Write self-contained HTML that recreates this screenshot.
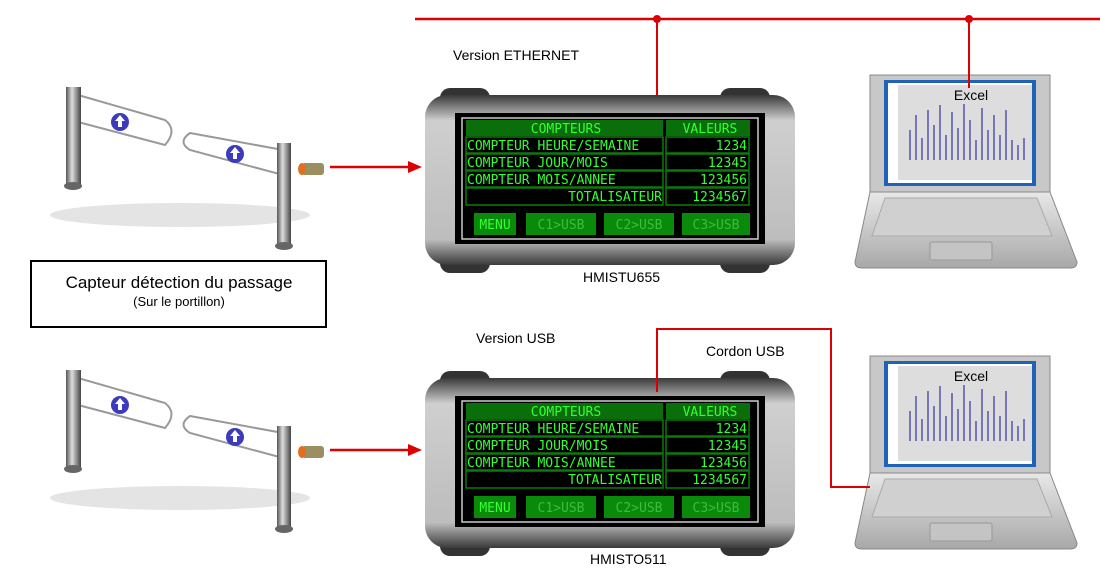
<!DOCTYPE html><html><head><meta charset="utf-8"><style>
body{margin:0;background:#fff;width:1100px;height:566px;overflow:hidden;font-family:"Liberation Sans",sans-serif}
svg text{font-family:"Liberation Sans",sans-serif}
svg text.m{font-family:"DejaVu Sans Mono","Liberation Mono",monospace;font-size:13px;fill:#33ff33}
svg text.d{fill:#3dbb3d}
</style></head><body>
<svg width="1100" height="566" viewBox="0 0 1100 566">
<defs>
<linearGradient id="post" x1="0" x2="1"><stop offset="0" stop-color="#555"/><stop offset=".4" stop-color="#ddd"/><stop offset="1" stop-color="#444"/></linearGradient>
<linearGradient id="body" x1="0" y1="0" x2="0" y2="1"><stop offset="0" stop-color="#3a3a3a"/><stop offset=".15" stop-color="#cfcfcf"/><stop offset=".85" stop-color="#bdbdbd"/><stop offset="1" stop-color="#3a3a3a"/></linearGradient>
<linearGradient id="lap" x1="0" y1="0" x2="0" y2="1"><stop offset="0" stop-color="#e8e8e8"/><stop offset="1" stop-color="#a8a8a8"/></linearGradient>
<g id="gate">
<ellipse cx="180" cy="215" rx="130" ry="12" fill="#e4e4e4"/>
<path d="M78 95 L165 120 Q178 130 165 145 L78 122" fill="none" stroke="#999" stroke-width="2"/>
<path d="M190 133 L283 150 L283 175 L190 150 Q177 142 190 133Z" fill="none" stroke="#999" stroke-width="2"/>
<circle cx="120" cy="122" r="9" fill="#3b3bbb"/><path d="M120 115 l-5 6 h3 v6 h4 v-6 h3z" fill="#fff"/>
<circle cx="235" cy="154" r="9" fill="#3b3bbb"/><path d="M235 147 l-5 6 h3 v6 h4 v-6 h3z" fill="#fff"/>
<rect x="66" y="87" width="15" height="97" fill="url(#post)"/><ellipse cx="73" cy="186" rx="9" ry="4" fill="#666"/>
<rect x="277" y="143" width="14" height="102" fill="url(#post)"/><ellipse cx="284" cy="246" rx="9" ry="4" fill="#666"/>
<rect x="302" y="163" width="22" height="12" rx="3" fill="#998f60"/><ellipse cx="302" cy="169" rx="4" ry="6" fill="#e07020"/>
<line x1="330" y1="167" x2="410" y2="167" stroke="#d00" stroke-width="2.5"/><path d="M408 161 L422 167 L408 173Z" fill="#d00"/>
</g>
<g id="hmi">
<rect x="720" y="88" width="50" height="185" rx="10" fill="#333"/>
<rect x="440" y="88" width="50" height="185" rx="10" fill="#333"/>
<rect x="425" y="95" width="370" height="170" rx="22" fill="url(#body)"/>
<rect x="455" y="113" width="310" height="131" fill="#000"/>
<rect x="462" y="118" width="296" height="121" fill="none" stroke="#ccc" stroke-width="1.5"/>
<rect x="466" y="120" width="197" height="16" fill="#0a6e0a"/><rect x="666" y="120" width="84" height="16" fill="#0a6e0a"/>
<g fill="none" stroke="#0a7a0a" stroke-width="1.5"><rect x="466" y="137" width="197" height="16"/><rect x="666" y="137" width="83" height="16"/><rect x="466" y="154" width="197" height="16"/><rect x="666" y="154" width="83" height="16"/><rect x="466" y="171" width="197" height="16"/><rect x="666" y="171" width="83" height="16"/><rect x="466" y="188" width="197" height="17"/><rect x="666" y="188" width="83" height="17"/></g>
<text class="m" x="566" y="133" text-anchor="middle">COMPTEURS</text><text class="m" x="710" y="133" text-anchor="middle">VALEURS</text>
<text class="m" x="467" y="150">COMPTEUR HEURE/SEMAINE</text><text class="m" x="747" y="150" text-anchor="end">1234</text>
<text class="m" x="467" y="167">COMPTEUR JOUR/MOIS</text><text class="m" x="747" y="167" text-anchor="end">12345</text>
<text class="m" x="467" y="184">COMPTEUR MOIS/ANNEE</text><text class="m" x="747" y="184" text-anchor="end">123456</text>
<text class="m" x="662" y="201" text-anchor="end">TOTALISATEUR</text><text class="m" x="747" y="201" text-anchor="end">1234567</text>
<rect x="474" y="213" width="42" height="22" fill="#0a8a0a"/><rect x="526" y="213" width="70" height="22" fill="#0a8a0a"/><rect x="604" y="213" width="70" height="22" fill="#0a8a0a"/><rect x="682" y="213" width="68" height="22" fill="#0a8a0a"/>
<text class="m" x="495" y="229" text-anchor="middle">MENU</text>
<text class="m d" x="561" y="229" text-anchor="middle">C1&gt;USB</text><text class="m d" x="639" y="229" text-anchor="middle">C2&gt;USB</text><text class="m d" x="716" y="229" text-anchor="middle">C3&gt;USB</text>
</g>
<g id="laptop">
<path d="M870 75 L1050 75 L1050 192 L870 192Z" fill="#c8c8c8" stroke="#888"/>
<rect x="884" y="80" width="152" height="106" fill="#1f63b8"/>
<rect x="888" y="83" width="144" height="100" fill="#fff"/>
<rect x="898" y="85" width="134" height="95" fill="#ddd"/>
<text x="971" y="100" font-size="14" text-anchor="middle" fill="#000">Excel</text>
<g stroke="#5555aa" stroke-width="1.5">
<line x1="910" y1="160" x2="910" y2="130"/><line x1="916" y1="160" x2="916" y2="115"/><line x1="922" y1="160" x2="922" y2="138"/><line x1="928" y1="160" x2="928" y2="110"/><line x1="934" y1="160" x2="934" y2="125"/><line x1="940" y1="160" x2="940" y2="105"/><line x1="946" y1="160" x2="946" y2="135"/><line x1="952" y1="160" x2="952" y2="112"/><line x1="958" y1="160" x2="958" y2="128"/><line x1="964" y1="160" x2="964" y2="104"/><line x1="970" y1="160" x2="970" y2="120"/><line x1="976" y1="160" x2="976" y2="140"/><line x1="982" y1="160" x2="982" y2="108"/><line x1="988" y1="160" x2="988" y2="130"/><line x1="994" y1="160" x2="994" y2="115"/><line x1="1000" y1="160" x2="1000" y2="135"/><line x1="1006" y1="160" x2="1006" y2="110"/><line x1="1012" y1="160" x2="1012" y2="140"/><line x1="1018" y1="160" x2="1018" y2="145"/><line x1="1024" y1="160" x2="1024" y2="138"/></g>
<path d="M870 192 L1050 192 L1077 262 Q1077 268 1070 268 L862 268 Q855 268 855 262Z" fill="url(#lap)" stroke="#888"/>
<path d="M885 198 L1037 198 L1052 236 L872 236Z" fill="#d0d0d0" stroke="#aaa"/>
<rect x="930" y="242" width="62" height="18" rx="2" fill="#c4c4c4" stroke="#999"/>
</g>
</defs>
<line x1="415" y1="19" x2="1100" y2="19" stroke="#d00" stroke-width="2.5"/>
<line x1="657" y1="19" x2="657" y2="110" stroke="#d00" stroke-width="2"/>
<circle cx="657" cy="19" r="4" fill="#d00"/><circle cx="969" cy="19" r="4" fill="#d00"/>
<use href="#gate"/><use href="#gate" transform="translate(0,283)"/>
<use href="#hmi"/><use href="#hmi" transform="translate(0,283)"/>
<use href="#laptop"/><use href="#laptop" transform="translate(0,281)"/>
<line x1="969" y1="19" x2="969" y2="88" stroke="#d00" stroke-width="2"/>
<polyline points="657,392 657,329 831,329 831,487 870,487" fill="none" stroke="#d00" stroke-width="2"/>
<rect x="31" y="261" width="295" height="66" fill="#fff" stroke="#000" stroke-width="2"/>
<text x="179" y="288" font-size="17" text-anchor="middle">Capteur détection du passage</text>
<text x="179" y="306" font-size="13" text-anchor="middle">(Sur le portillon)</text>
<text x="453" y="60" font-size="14">Version  ETHERNET</text>
<text x="583" y="282" font-size="14">HMISTU655</text>
<text x="476" y="343" font-size="14">Version USB</text>
<text x="706" y="356" font-size="14">Cordon USB</text>
<text x="590" y="564" font-size="14">HMISTO511</text>
</svg></body></html>
